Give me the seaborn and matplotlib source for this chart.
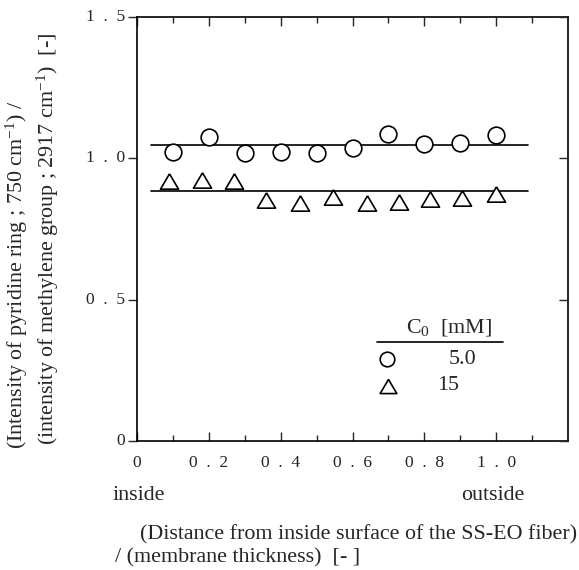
import matplotlib
matplotlib.use("Agg")
import matplotlib.pyplot as plt
import seaborn as sns
import numpy as np
from matplotlib.lines import Line2D

# ---- data ----
circle_x = [0.1, 0.2, 0.3, 0.4, 0.5, 0.6, 0.7, 0.8, 0.9, 1.0]
circle_y = [1.023, 1.076, 1.020, 1.023, 1.018, 1.035, 1.085, 1.049, 1.053, 1.082]
tri_x = [0.09, 0.18, 0.27, 0.36, 0.455, 0.545, 0.64, 0.73, 0.815, 0.905, 1.0]
tri_y = [0.919, 0.922, 0.919, 0.853, 0.841, 0.862, 0.841, 0.847, 0.855, 0.859, 0.872]
fit_x = [0.04, 1.09]
fit_circle = [1.047, 1.047]
fit_tri = [0.886, 0.886]

xticks = [0, 0.2, 0.4, 0.6, 0.8, 1.0]
xtick_labels = ["0", "0  .  2", "0  .  4", "0  .  6", "0  .  8", "1  .  0"]
xminor = [0.1, 0.3, 0.5, 0.7, 0.9, 1.1]
yticks = [0, 0.5, 1.0, 1.5]
ytick_labels = ["0", "0  .  5", "1  .  0", "1  .  5"]
legend_title = "C$_{\\mathregular{0}}$  [mM]"
legend_labels = ["5.0", "15"]

sns.set_style("white")
plt.rcParams["font.family"] = ["Liberation Serif", "DejaVu Serif"]
plt.rcParams["mathtext.fontset"] = "custom"
plt.rcParams["mathtext.rm"] = "Liberation Serif"
plt.rcParams["mathtext.it"] = "Liberation Serif:italic"

W, H = 579, 570
fig = plt.figure(figsize=(W / 100, H / 100), dpi=100)

def fx(px):
    return px / W

def fy(py):
    return 1 - py / H

left, right, top, bottom = 137, 568, 16.7, 441.3
ax = fig.add_axes([fx(left), fy(bottom), fx(right) - fx(left), fy(top) - fy(bottom)])

tri_marker = [(0, 0.85), (-1, -0.85), (1, -0.85), (0, 0.85)]

sns.lineplot(x=fit_x, y=fit_circle, ax=ax, color="black", linewidth=1.2, zorder=2)
sns.lineplot(x=fit_x, y=fit_tri, ax=ax, color="black", linewidth=1.2, zorder=2)
sns.scatterplot(x=circle_x, y=circle_y, ax=ax, marker="o", s=12.0**2,
                color="white", edgecolor="black", linewidth=1.2, zorder=3)
sns.scatterplot(x=tri_x, y=tri_y, ax=ax, marker=tri_marker, s=13.0**2,
                color="white", edgecolor="black", linewidth=1.2, zorder=3)

ax.set_xlim(0, 1.2)
ax.set_ylim(0, 1.5)
ax.set_xticks(xticks)
ax.set_xticklabels(xtick_labels, fontsize=12.5)
ax.set_xticks(xminor, minor=True)
ax.set_yticks(yticks)
ax.set_yticklabels(ytick_labels, fontsize=12.5)
ax.tick_params(axis="x", which="major", direction="in", length=6.5, width=1.0,
               top=True, bottom=True, pad=10)
ax.tick_params(axis="x", which="minor", direction="in", length=4.3, width=1.0,
               top=True, bottom=True)
ax.tick_params(axis="y", which="major", direction="out", length=6.5, width=1.0,
               left=True, right=False, pad=2)
for lbl in ax.get_yticklabels():
    lbl.set_verticalalignment("center")
for s in ax.spines.values():
    s.set_linewidth(1.2)
    s.set_color("black")

ax2 = ax.twinx()
ax2.set_ylim(0, 1.5)
ax2.set_yticks(yticks)
ax2.tick_params(axis="y", direction="in", length=6.5, width=1.0, labelright=False)
for s in ax2.spines.values():
    s.set_visible(False)

# axis labels
fs = 15.8
fig.text(fx(16.5), fy(275), "(Intensity of pyridine ring ; 750 cm$^{\\mathregular{-1}}$) /",
         rotation=90, ha="center", va="center", fontsize=fs)
fig.text(fx(47.5), fy(239), "(intensity of methylene group ; 2917 cm$^{\\mathregular{-1}}$)  [-]",
         rotation=90, ha="center", va="center", fontsize=fs)
fig.text(fx(112.7), fy(495), "inside", ha="left", va="center", fontsize=fs)
fig.text(fx(524), fy(495), "outside", ha="right", va="center", fontsize=fs)
fig.text(fx(577), fy(535), "(Distance from inside surface of the SS-EO fiber)",
         ha="right", va="center", fontsize=fs)
fig.text(fx(115), fy(558), "/ (membrane thickness)  [- ]", ha="left", va="center", fontsize=fs)

# legend
fig.text(fx(448.5), fy(327), legend_title, ha="center", va="center", fontsize=fs)
fig.add_artist(Line2D([fx(376.7), fx(503)], [fy(341.7), fy(341.7)], color="black", linewidth=1.2))
fig.add_artist(Line2D([fx(387)], [fy(359)], marker="o", markersize=10.5, markerfacecolor="white",
                      markeredgecolor="black", markeredgewidth=1.2, linestyle="none"))
fig.add_artist(Line2D([fx(388)], [fy(386)], marker=tri_marker, markersize=12, markerfacecolor="white",
                      markeredgecolor="black", markeredgewidth=1.2, linestyle="none"))
fig.text(fx(462.5), fy(359), legend_labels[0], ha="center", va="center", fontsize=fs)
fig.text(fx(448.5), fy(386), legend_labels[1], ha="center", va="center", fontsize=fs)

fig.savefig("out.png", dpi=100)
